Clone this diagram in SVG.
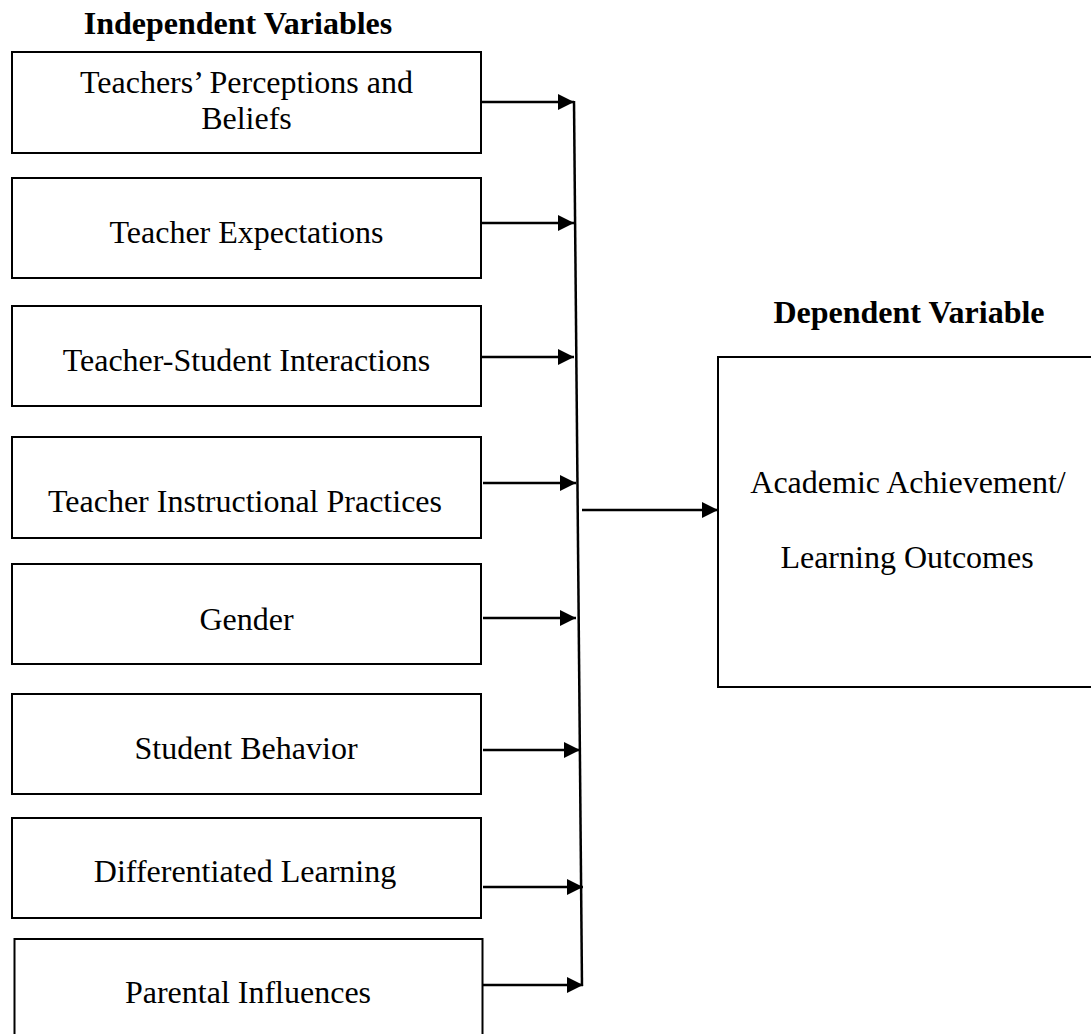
<svg xmlns="http://www.w3.org/2000/svg" width="1091" height="1034" viewBox="0 0 1091 1034">
<defs>
<marker id="ah" markerUnits="userSpaceOnUse" markerWidth="18" markerHeight="18" refX="16" refY="8" orient="auto" overflow="visible">
<path d="M0,0 L16,8 L0,16 z" fill="#000"/>
</marker>
<style>
.box{fill:#fff;stroke:#000;stroke-width:2}
.t{font-family:"Liberation Serif","Times New Roman",serif;font-size:32px;fill:#000;text-anchor:middle}
.h{font-family:"Liberation Serif","Times New Roman",serif;font-size:32px;font-weight:bold;fill:#000;text-anchor:middle}
.c{stroke:#000;stroke-width:2.5;fill:none}
.a{stroke:#000;stroke-width:2.5;fill:none;marker-end:url(#ah)}
</style>
</defs>
<rect width="1091" height="1034" fill="#fff"/>
<text class="h" x="238" y="34">Independent Variables</text>
<text class="h" x="909" y="323">Dependent Variable</text>

<g id="n1"><rect class="box" x="12" y="52" width="469" height="101"/><text class="t" x="246.5" y="93">Teachers’ Perceptions and</text><text class="t" x="246.5" y="129">Beliefs</text></g>
<g id="n2"><rect class="box" x="12" y="178" width="469" height="100"/><text class="t" x="246.5" y="243">Teacher Expectations</text></g>
<g id="n3"><rect class="box" x="12" y="306" width="469" height="100"/><text class="t" x="246.5" y="371">Teacher-Student Interactions</text></g>
<g id="n4"><rect class="box" x="12" y="437" width="469" height="101"/><text class="t" x="245" y="512">Teacher Instructional Practices</text></g>
<g id="n5"><rect class="box" x="12" y="564" width="469" height="100"/><text class="t" x="246.5" y="630">Gender</text></g>
<g id="n6"><rect class="box" x="12" y="694" width="469" height="100"/><text class="t" x="246" y="759">Student Behavior</text></g>
<g id="n7"><rect class="box" x="12" y="818" width="469" height="100"/><text class="t" x="245" y="882">Differentiated Learning</text></g>
<g id="n8"><rect class="box" x="14.5" y="939" width="468" height="110"/><text class="t" x="248" y="1003">Parental Influences</text></g>
<g id="n9"><rect class="box" x="718" y="357" width="380" height="330"/><text class="t" x="908" y="493">Academic Achievement/</text><text class="t" x="907" y="568">Learning Outcomes</text></g>

<g id="connectors">
<line class="a" x1="481" y1="102" x2="574" y2="102"/>
<line class="a" x1="481" y1="223" x2="574" y2="223"/>
<line class="a" x1="481" y1="357" x2="574" y2="357"/>
<line class="a" x1="483" y1="483" x2="576" y2="483"/>
<line class="a" x1="483" y1="618" x2="576" y2="618"/>
<line class="a" x1="483" y1="750" x2="580" y2="750"/>
<line class="a" x1="483" y1="887" x2="583" y2="887"/>
<line class="a" x1="483" y1="985" x2="583" y2="985"/>
<line class="c" x1="574" y1="101" x2="582" y2="986"/>
<line class="a" x1="582" y1="510" x2="718" y2="510"/>
</g>
</svg>
